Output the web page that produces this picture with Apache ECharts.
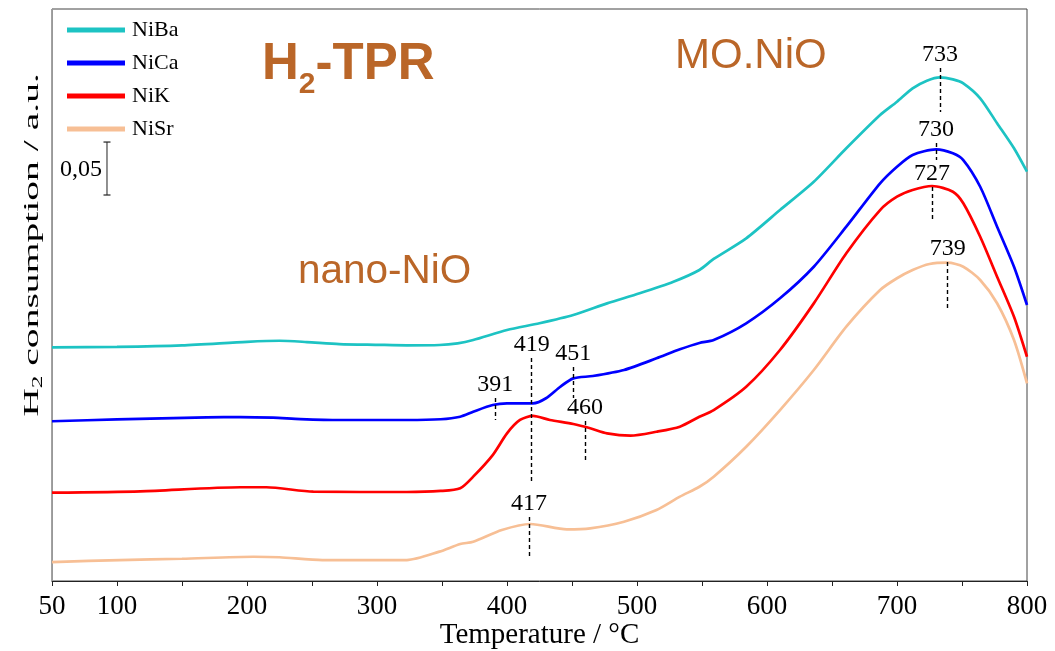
<!DOCTYPE html>
<html>
<head>
<meta charset="utf-8">
<title>H2-TPR</title>
<script src="https://cdn.jsdelivr.net/npm/echarts@6/dist/echarts.min.js"></script>
<style>
  html, body { margin: 0; padding: 0; background: #ffffff; }
  #chart { width: 1055px; height: 651px; }
</style>
</head>
<body>
<div id="chart"></div>
<script>
// H2-TPR profiles: temperature (°C) vs. H2 consumption (a.u., traces offset vertically)
const niBaT = [50, 100, 150, 200, 225, 246, 271, 300, 323, 348, 362, 374, 400, 425, 451, 477, 502, 528, 548, 559, 584, 610, 636, 661, 687, 700, 712, 723, 733, 743, 751, 764, 777, 790, 800];
const niBaV = [0.2206, 0.2211, 0.2225, 0.2258, 0.2268, 0.2256, 0.2237, 0.2230, 0.2225, 0.2228, 0.2244, 0.2275, 0.2369, 0.2433, 0.2511, 0.2621, 0.2716, 0.2825, 0.2936, 0.3040, 0.3235, 0.3502, 0.3769, 0.4085, 0.4399, 0.4525, 0.4651, 0.4723, 0.4755, 0.4736, 0.4698, 0.4557, 0.4321, 0.4085, 0.3864];

const niCaT = [50, 100, 169, 195, 220, 241, 271, 323, 349, 364, 374, 389, 400, 420, 430, 441, 451, 466, 490, 515, 533, 548, 559, 584, 610, 636, 661, 687, 700, 712, 730, 743, 751, 764, 777, 790, 800];
const niCaV = [0.1508, 0.1525, 0.1545, 0.1548, 0.1542, 0.1529, 0.1520, 0.1520, 0.1527, 0.1551, 0.1598, 0.1661, 0.1677, 0.1677, 0.1725, 0.1834, 0.1913, 0.1935, 0.1992, 0.2102, 0.2187, 0.2247, 0.2275, 0.2433, 0.2669, 0.2967, 0.3345, 0.3754, 0.3911, 0.4022, 0.4075, 0.4038, 0.3974, 0.3722, 0.3345, 0.2967, 0.2606];

const niKT = [50, 118, 195, 215, 251, 323, 349, 364, 374, 389, 400, 410, 420, 433, 451, 464, 477, 495, 515, 533, 548, 559, 584, 610, 636, 661, 687, 700, 712, 727, 743, 751, 764, 777, 790, 800];
const niKV = [0.0834, 0.0847, 0.0885, 0.0885, 0.0843, 0.0840, 0.0850, 0.0875, 0.0985, 0.1189, 0.1394, 0.1520, 0.1558, 0.1520, 0.1482, 0.1442, 0.1394, 0.1372, 0.1409, 0.1457, 0.1550, 0.1614, 0.1834, 0.2181, 0.2621, 0.3094, 0.3502, 0.3628, 0.3691, 0.3729, 0.3675, 0.3566, 0.3250, 0.2873, 0.2495, 0.2117];

const niSrT = [50, 102, 150, 205, 225, 258, 323, 348, 364, 374, 396, 418, 446, 464, 490, 515, 533, 548, 559, 584, 610, 636, 661, 687, 700, 712, 725, 739, 751, 764, 777, 790, 800];
const niSrV = [0.0179, 0.0198, 0.0210, 0.0229, 0.0224, 0.0198, 0.0198, 0.0277, 0.0349, 0.0371, 0.0481, 0.0538, 0.0488, 0.0497, 0.0560, 0.0670, 0.0796, 0.0890, 0.0985, 0.1268, 0.1614, 0.1992, 0.2401, 0.2747, 0.2858, 0.2936, 0.2993, 0.3005, 0.2967, 0.2842, 0.2622, 0.2275, 0.1866];

const seriesNames = ['NiBa', 'NiCa', 'NiK', 'NiSr'];
const seriesColors = ['#1dc3c3', '#0000ff', '#ff0000', '#f7bf95'];

// Peak maxima: [temperature, upper end, lower end] of each dashed marker
const niBaPeaks = [[733, 0.4843, 0.4428]];
const niCaPeaks = [[730, 0.4135, 0.3974], [391, 0.1728, 0.1520], [451, 0.2020, 0.1728]];
const niKPeaks = [[727, 0.3720, 0.3389], [419, 0.2105, 0.0935], [460, 0.1510, 0.1133]];
const niSrPeaks = [[739, 0.3012, 0.2568], [417, 0.0604, 0.0227]];

// Temperature axis: ticks every 50 °C, labels at these values
const xLabelled = [50, 100, 200, 300, 400, 500, 600, 700, 800];

// Scale bar: 0,05 a.u.
const scaleBarT = 92.3;
const scaleBarTop = 0.4144;
const scaleBarSize = 0.05;
const scaleBarText = '0,05';

const serif = 'Liberation Serif, Times New Roman, serif';
const sans = 'Liberation Sans, Arial, sans-serif';
const brown = '#ba6628';

function zip(t, v) { return t.map((x, i) => [x, v[i]]); }

function peakMarks(peaks) {
  return {
    silent: true,
    symbol: ['none', 'none'],
    lineStyle: { color: '#000', width: 1.4, type: [4, 3] },
    label: {
      show: true, position: 'start', distance: 1,
      color: '#000', fontFamily: serif, fontSize: 24
    },
    data: peaks.map(p => [
      { coord: [p[0], p[1]], label: { formatter: String(p[0]) } },
      { coord: [p[0], p[2]] }
    ])
  };
}

const traces = [
  [niBaT, niBaV, niBaPeaks],
  [niCaT, niCaV, niCaPeaks],
  [niKT, niKV, niKPeaks],
  [niSrT, niSrV, niSrPeaks]
];

const series = traces.map((tr, i) => ({
  name: seriesNames[i],
  type: 'line',
  data: zip(tr[0], tr[1]),
  smooth: 0.25,
  showSymbol: false,
  symbol: 'none',
  color: seriesColors[i],
  lineStyle: { width: 2.7, color: seriesColors[i] },
  markLine: peakMarks(tr[2]),
  z: 3
}));

series.push({
  name: 'scale',
  type: 'line',
  data: [[scaleBarT, scaleBarTop], [scaleBarT, scaleBarTop - scaleBarSize]],
  symbol: 'rect',
  symbolSize: [7, 1.2],
  showSymbol: true,
  itemStyle: { color: '#222' },
  lineStyle: { color: '#222', width: 1 },
  silent: true,
  z: 2
});

const chart = echarts.init(document.getElementById('chart'), null, { renderer: 'canvas' });

chart.setOption({
  animation: false,
  backgroundColor: '#ffffff',
  grid: {
    left: 52, right: 28, top: 9, bottom: 70,
    show: true, borderColor: '#444', borderWidth: 1,
    containLabel: false,
    outerBoundsMode: 'none'
  },
  legend: {
    data: seriesNames,
    orient: 'vertical',
    left: 62, top: 13,
    icon: 'rect',
    itemWidth: 58, itemHeight: 5,
    itemGap: 9,
    textStyle: { fontFamily: serif, fontSize: 22, color: '#000', lineHeight: 24, padding: [0, 0, 0, 2] }
  },
  xAxis: {
    type: 'value',
    min: 50, max: 800, interval: 50,
    name: 'Temperature / °C',
    nameLocation: 'middle',
    nameGap: 40,
    nameMoveOverlap: false,
    nameTextStyle: { fontFamily: serif, fontSize: 29, color: '#000' },
    axisLine: { show: true, lineStyle: { color: '#222', width: 1 } },
    axisTick: { show: true, inside: false, length: 5, lineStyle: { color: '#222' } },
    axisLabel: {
      margin: 12, fontFamily: serif, fontSize: 27, color: '#000',
      formatter: v => (xLabelled.indexOf(v) >= 0 ? String(v) : '')
    },
    splitLine: { show: false }
  },
  yAxis: {
    type: 'value',
    min: 0, max: 0.54,
    axisLine: { show: true, lineStyle: { color: '#999', width: 1 } },
    axisTick: { show: false },
    axisLabel: { show: false },
    splitLine: { show: false }
  },
  graphic: [
    {
      type: 'text', x: 21, y: 245, rotation: Math.PI / 2, scaleX: 1.8,
      style: {
        text: '{a|H}{s|2}{a| consumption / a.u.}',
        align: 'center', verticalAlign: 'top', fill: '#000',
        rich: {
          a: { fontFamily: serif, fontSize: 22, lineHeight: 22, verticalAlign: 'top', fill: '#000' },
          s: { fontFamily: serif, fontSize: 14, lineHeight: 24, verticalAlign: 'bottom', fill: '#000' }
        }
      }
    },
    {
      type: 'text', x: 262, y: 39,
      style: {
        text: '{a|H}{s|2}{a|-TPR}',
        align: 'left', verticalAlign: 'top', fill: brown,
        rich: {
          a: { fontFamily: sans, fontWeight: 'bold', fontSize: 51, lineHeight: 52, verticalAlign: 'top', fill: brown },
          s: { fontFamily: sans, fontWeight: 'bold', fontSize: 30, lineHeight: 61, verticalAlign: 'bottom', fill: brown }
        }
      }
    },
    {
      type: 'text', x: 675, y: 56,
      style: { text: 'MO.NiO', fontFamily: sans, fontSize: 42, fill: brown, align: 'left', verticalAlign: 'middle' }
    },
    {
      type: 'text', x: 298, y: 272,
      style: { text: 'nano-NiO', fontFamily: sans, fontSize: 40.5, fill: brown, align: 'left', verticalAlign: 'middle' }
    },
    {
      type: 'text', x: 102, y: 170,
      style: { text: scaleBarText, fontFamily: serif, fontSize: 24, fill: '#000', align: 'right', verticalAlign: 'middle' }
    }
  ],
  series: series
});
</script>
</body>
</html>
